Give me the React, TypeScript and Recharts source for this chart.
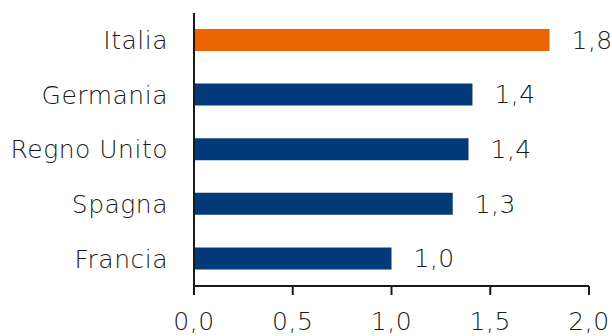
import { Bar, BarChart, Cell, LabelList, XAxis, YAxis } from 'recharts';

const COUNTRIES = ['Italia', 'Germania', 'Regno Unito', 'Spagna', 'Francia'];
const VALUES = [1.8, 1.41, 1.39, 1.31, 1.0];
const X_TICKS = [0, 0.5, 1, 1.5, 2];

const ORANGE = '#eb6400';
const BLUE = '#033b7a';
const INK = '#1a1a1a';
const FONT = '"DejaVu Sans", sans-serif';
const TEXT = { fill: INK, fontSize: 25, fontFamily: FONT, fontWeight: 300, letterSpacing: 0.5 };

const data = COUNTRIES.map((name, i) => ({ name, value: VALUES[i] }));

const fmt = (v: number) => v.toFixed(1).replace('.', ',');

export default function App() {
  return (
    <div style={{ position: 'absolute', left: 0, top: 0, width: 612, height: 336, background: '#fff' }}>
      <BarChart
        width={612}
        height={336}
        data={data}
        layout="vertical"
        margin={{ top: 13, right: 23, bottom: 0, left: 0 }}
      >
        <XAxis
          type="number"
          domain={[0, 2]}
          ticks={X_TICKS}
          tickFormatter={fmt}
          height={50}
          tickSize={9}
          tickMargin={17}
          stroke={INK}
          strokeWidth={2}
          tick={TEXT}
          interval={0}
        />
        <YAxis
          type="category"
          dataKey="name"
          width={194}
          tickLine={false}
          tickSize={0}
          tickMargin={26}
          stroke={INK}
          strokeWidth={2}
          tick={TEXT}
        />
        <Bar dataKey="value" barSize={22} isAnimationActive={false}>
          {data.map((d, i) => (
            <Cell key={d.name} fill={i === 0 ? ORANGE : BLUE} />
          ))}
          <LabelList
            dataKey="value"
            position="right"
            offset={22}
            formatter={(v: number) => fmt(v)}
            style={TEXT}
          />
        </Bar>
      </BarChart>
    </div>
  );
}
